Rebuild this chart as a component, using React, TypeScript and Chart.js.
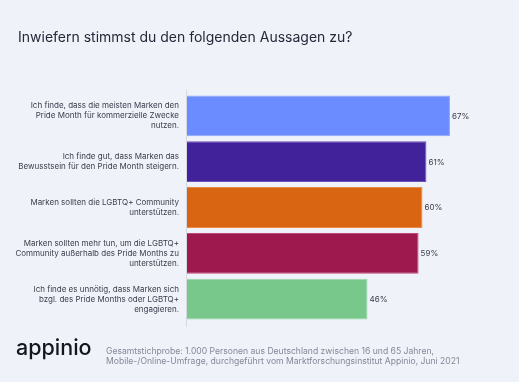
import React, { useEffect, useRef } from "react";
import { Chart, registerables } from "chart.js";

Chart.register(...registerables);

const title = "Inwiefern stimmst du den folgenden Aussagen zu?";
const categories: string[][] = [
  ["Ich finde, dass die meisten Marken den", "Pride Month für kommerzielle Zwecke", "nutzen."],
  ["Ich finde gut, dass Marken das", "Bewusstsein für den Pride Month steigern."],
  ["Marken sollten die LGBTQ+ Community", "unterstützen."],
  ["Marken sollten mehr tun, um die LGBTQ+", "Community außerhalb des Pride Months zu", "unterstützen."],
  ["Ich finde es unnötig, dass Marken sich", "bzgl. des Pride Months oder LGBTQ+", "engagieren."],
];
const values = [67, 61, 60, 59, 46];
const barColors = ["#6b8cff", "#42229a", "#d96512", "#9e1a4e", "#78c88b"];
const barBorders = ["#8ea8ff", "#6a52b8", "#e88a4a", "#c04a78", "#9ad8a8"];
const footerLines = [
  "Gesamtstichprobe: 1.000 Personen aus Deutschland zwischen 16 und 65 Jahren,",
  "Mobile-/Online-Umfrage, durchgeführt vom Marktforschungsinstitut Appinio, Juni 2021",
];
const brand = "appinio";

const FONT = "Inter, 'Noto Sans', sans-serif";

export default function App() {
  const ref = useRef<HTMLCanvasElement | null>(null);

  useEffect(() => {
    document.body.style.margin = "0";
    document.body.style.background = "#eff2f9";
    const canvas = ref.current;
    if (!canvas) return;

    const valueLabels = {
      id: "valueLabels",
      afterDatasetsDraw(chart: any) {
        const ctx = chart.ctx;
        const meta = chart.getDatasetMeta(0);
        ctx.save();
        ctx.font = `8px ${FONT}`;
        ctx.fillStyle = "#3a3d4a";
        ctx.textAlign = "left";
        ctx.textBaseline = "middle";
        meta.data.forEach((bar: any, i: number) => {
          ctx.fillText(values[i] + "%", bar.x + 2, bar.y + 0.5);
        });
        ctx.restore();
      },
    };

    const axisLine = {
      id: "axisLine",
      afterDatasetsDraw(chart: any) {
        const ctx = chart.ctx;
        const a = chart.chartArea;
        ctx.save();
        ctx.strokeStyle = "#d6d9e2";
        ctx.lineWidth = 1;
        ctx.beginPath();
        ctx.moveTo(a.left - 0.5, a.top - 3);
        ctx.lineTo(a.left - 0.5, a.bottom + 5);
        ctx.stroke();
        ctx.restore();
      },
    };

    const chart = new Chart(canvas, {
      type: "bar",
      data: {
        labels: categories,
        datasets: [
          {
            data: values,
            backgroundColor: barColors,
            borderColor: barBorders,
            borderWidth: 1,
            barPercentage: 0.89,
            categoryPercentage: 1,
          },
        ],
      },
      options: {
        indexAxis: "y",
        animation: false,
        responsive: false,
        layout: { padding: { top: 93, bottom: 60, left: 0, right: 18 } },
        plugins: {
          legend: { display: false },
          tooltip: { enabled: false },
          title: { display: false },
        },
        scales: {
          x: { display: false, min: 0, max: 80 },
          y: {
            afterFit(scale: any) {
              scale.width = 187;
            },
            grid: { display: false, drawTicks: false },
            border: { display: false },
            ticks: {
              padding: 8,
              color: "#3a3d4a",
              font: { family: FONT, size: 8, lineHeight: 1.25 },
            },
          },
        },
      },
      plugins: [valueLabels, axisLine],
    });
    return () => chart.destroy();
  }, []);

  return (
    <div style={{ position: "relative", width: 519, height: 382, background: "#eff2f9", overflow: "hidden", fontFamily: FONT }}>
      <canvas ref={ref} width={519} height={382} style={{ position: "absolute", left: 0, top: 0 }} />
      <div style={{ position: "absolute", left: 18, top: 27, fontSize: 14, color: "#252838", whiteSpace: "nowrap", lineHeight: "20px" }}>
        {title}
      </div>
      <div style={{ position: "absolute", left: 16, top: 335, fontSize: 21.5, fontWeight: 500, color: "#15171f", lineHeight: "24px", letterSpacing: 0 }}>
        {brand}
      </div>
      <div style={{ position: "absolute", left: 106, top: 346, fontSize: 8.6, color: "#858897", lineHeight: "10px", whiteSpace: "nowrap" }}>
        {footerLines.map((l, i) => (
          <div key={i}>{l}</div>
        ))}
      </div>
    </div>
  );
}
